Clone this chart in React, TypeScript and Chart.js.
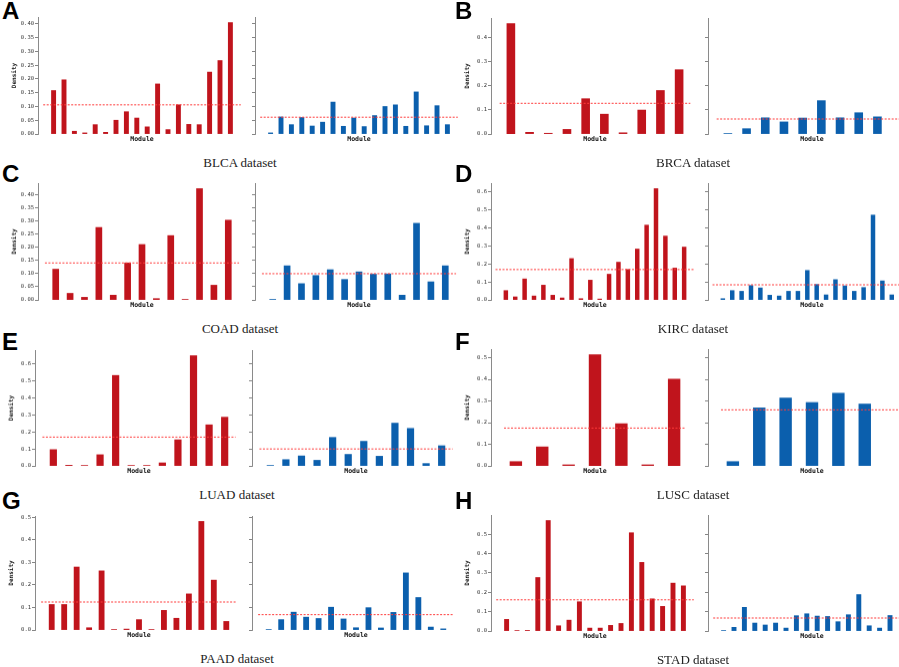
import { useEffect, useRef } from "react";
import { Chart, registerables } from "chart.js";

Chart.register(...registerables);

// ---- data ----
const datasetNames = ["BLCA", "BRCA", "COAD", "KIRC", "LUAD", "LUSC", "PAAD", "STAD"];
const panelLetters = ["A", "B", "C", "D", "E", "F", "G", "H"];

const blcaRed = [0.158, 0.197, 0.010, 0.004, 0.034, 0.006, 0.050, 0.081, 0.058, 0.026, 0.182, 0.016, 0.106, 0.035, 0.034, 0.225, 0.267, 0.405];
const blcaBlue = [0.004, 0.062, 0.034, 0.060, 0.029, 0.043, 0.116, 0.028, 0.058, 0.027, 0.067, 0.100, 0.106, 0.028, 0.153, 0.030, 0.103, 0.034];
const brcaRed = [0.457, 0.007, 0.003, 0.019, 0.146, 0.082, 0.005, 0.099, 0.180, 0.266];
const brcaBlue = [0.002, 0.022, 0.067, 0.050, 0.066, 0.138, 0.067, 0.088, 0.071];
const coadRed = [0.117, 0.025, 0.010, 0.276, 0.018, 0.141, 0.211, 0.005, 0.245, 0.002, 0.424, 0.056, 0.304];
const coadBlue = [0.002, 0.130, 0.062, 0.093, 0.115, 0.078, 0.107, 0.098, 0.099, 0.018, 0.292, 0.069, 0.130];
const kircRed = [0.052, 0.017, 0.117, 0.022, 0.082, 0.026, 0.011, 0.230, 0.007, 0.110, 0.005, 0.143, 0.210, 0.169, 0.283, 0.416, 0.619, 0.355, 0.177, 0.294];
const kircBlue = [0.007, 0.052, 0.048, 0.080, 0.067, 0.026, 0.022, 0.048, 0.048, 0.164, 0.086, 0.028, 0.113, 0.078, 0.048, 0.069, 0.472, 0.106, 0.028];
const luadRed = [0.096, 0.004, 0.002, 0.066, 0.533, 0.002, 0.001, 0.018, 0.154, 0.650, 0.242, 0.287];
const luadBlue = [0.001, 0.037, 0.059, 0.033, 0.168, 0.068, 0.145, 0.057, 0.252, 0.221, 0.014, 0.119];
const luscRed = [0.020, 0.088, 0.005, 0.514, 0.195, 0.005, 0.401];
const luscBlue = [0.020, 0.268, 0.314, 0.293, 0.336, 0.286];
const paadRed = [0.113, 0.113, 0.279, 0.010, 0.262, 0.001, 0.004, 0.046, 0.001, 0.087, 0.052, 0.160, 0.481, 0.221, 0.038];
const paadBlue = [0.001, 0.046, 0.079, 0.057, 0.051, 0.101, 0.049, 0.010, 0.099, 0.009, 0.078, 0.253, 0.144, 0.013, 0.005];
const stadRed = [0.060, 0.001, 0.003, 0.276, 0.570, 0.027, 0.056, 0.151, 0.015, 0.015, 0.029, 0.039, 0.507, 0.354, 0.166, 0.127, 0.247, 0.233];
const stadBlue = [0.001, 0.019, 0.122, 0.041, 0.031, 0.041, 0.015, 0.079, 0.089, 0.077, 0.075, 0.048, 0.084, 0.188, 0.027, 0.015, 0.080];

const redSeries = [blcaRed, brcaRed, coadRed, kircRed, luadRed, luscRed, paadRed, stadRed];
const blueSeries = [blcaBlue, brcaBlue, coadBlue, kircBlue, luadBlue, luscBlue, paadBlue, stadBlue];

// dashed threshold lines
const redMeans = [0.106, 0.127, 0.141, 0.169, 0.170, 0.175, 0.124, 0.161];
const blueMeans = [0.061, 0.062, 0.100, 0.084, 0.100, 0.259, 0.068, 0.067];

// y tick step and decimals per panel
const tickSteps = [0.05, 0.1, 0.05, 0.1, 0.1, 0.1, 0.1, 0.1];
const tickDigits = [2, 1, 2, 1, 1, 1, 1, 1];

// ---- layout (pixels) ----
const panelLayout = [
  { axisX: 38, top: 17, zero: 134.3, letterTop: 2 },
  { axisX: 491, top: 18.3, zero: 134.3, letterTop: 2 },
  { axisX: 38, top: 183.3, zero: 300, letterTop: 165 },
  { axisX: 491, top: 183.3, zero: 300, letterTop: 165 },
  { axisX: 35, top: 350, zero: 465.7, letterTop: 333 },
  { axisX: 491, top: 349.3, zero: 465.7, letterTop: 333 },
  { axisX: 35, top: 515.7, zero: 630.3, letterTop: 492 },
  { axisX: 491, top: 515, zero: 631.3, letterTop: 492 },
];

const AXES_W = 208;
const BLUE_OFFSET = 217;
const Y_AXIS_W_RED = 30;
const Y_AXIS_W_BLUE = 4;
const PAD_TOP = 6;
const X_AXIS_H = 12;
const BAR_FRACTION = 0.39;

const RED = "#c0141c";
const BLUE = "#0b5fad";
const DASH = "#ff3b3b";
const MONO = "'DejaVu Sans Mono', monospace";

interface SubProps {
  values: number[];
  mean: number;
  count: number;
  yMax: number;
  step: number;
  digits: number;
  color: string;
  labels: boolean;
  left: number;
  top: number;
  plotH: number;
}

function SubChart({ values, mean, count, yMax, step, digits, color, labels, left, top, plotH }: SubProps) {
  const canvasRef = useRef<HTMLCanvasElement>(null);
  const chartRef = useRef<Chart | null>(null);

  const yAxisW = labels ? Y_AXIS_W_RED : Y_AXIS_W_BLUE;
  const width = yAxisW + AXES_W;
  const height = PAD_TOP + plotH + X_AXIS_H;
  const pad = 0.05 * count + 0.1;
  const xMin = -pad;
  const xMax = count - 1 + pad;
  const barPx = (BAR_FRACTION * AXES_W) / (xMax - xMin);

  useEffect(() => {
    if (!canvasRef.current) return;
    chartRef.current = new Chart(canvasRef.current, {
      type: "bar",
      data: {
        datasets: [
          {
            type: "line",
            data: [
              { x: xMin, y: mean },
              { x: xMax, y: mean },
            ],
            borderColor: DASH,
            borderWidth: 1,
            borderDash: [2, 1.5],
            pointRadius: 0,
            order: 0,
          },
          {
            type: "bar",
            data: values.map((v, i) => ({ x: i, y: v })),
            backgroundColor: color,
            borderWidth: 0,
            barThickness: barPx,
            order: 1,
          },
        ],
      } as any,
      options: {
        responsive: false,
        animation: false,
        layout: { padding: { top: PAD_TOP, left: 0, right: 0, bottom: 0 } },
        plugins: { legend: { display: false }, tooltip: { enabled: false } },
        scales: {
          x: {
            type: "linear",
            min: xMin,
            max: xMax,
            bounds: "data",
            grid: { display: false },
            border: { display: false },
            ticks: { display: false, stepSize: 1 },
            title: {
              display: true,
              text: "Module",
              color: "#111",
              font: { family: MONO, size: 6.5, weight: "bold" },
              padding: { top: 0, bottom: 2.4 },
            },
            afterFit: (s: any) => {
              s.height = X_AXIS_H;
            },
          },
          y: {
            type: "linear",
            min: 0,
            max: yMax,
            bounds: "data",
            grid: { display: true, drawOnChartArea: false, drawTicks: true, tickLength: 3, color: "#666", lineWidth: 0.8 },
            border: { display: true, color: "#8a8a8a", width: 1 },
            ticks: {
              display: labels,
              stepSize: step,
              includeBounds: false,
              padding: 1,
              color: "#333",
              font: { family: MONO, size: 5.5 },
              callback: (v: any) => Number(v).toFixed(digits),
            },
            title: {
              display: labels,
              text: "Density",
              color: "#111",
              font: { family: MONO, size: 6, weight: "bold" },
              padding: { top: 2.4, bottom: 0 },
            },
            afterFit: (s: any) => {
              s.width = yAxisW;
            },
          },
        },
      } as any,
    });

    return () => {
      if (chartRef.current) {
        chartRef.current.destroy();
        chartRef.current = null;
      }
    };
  }, [values, mean, count, yMax, step, digits, color, labels]);

  return (
    <canvas
      ref={canvasRef}
      width={width}
      height={height}
      style={{ position: "absolute", left: left - yAxisW, top: top - PAD_TOP, width, height }}
    />
  );
}

export default function App() {
  return (
    <div
      style={{
        position: "fixed",
        left: 0,
        top: 0,
        width: 899,
        height: 667,
        overflow: "hidden",
        background: "#fff",
      }}
    >
      {datasetNames.map((name, p) => {
        const lay = panelLayout[p];
        const red = redSeries[p];
        const blue = blueSeries[p];
        const yMax = 1.05 * Math.max(...red, ...blue);
        const plotH = lay.zero - lay.top;
        const letterLeft = lay.axisX < 300 ? 2 : 455;
        return (
          <div key={name}>
            <div
              style={{
                position: "absolute",
                left: letterLeft,
                top: lay.letterTop - 3,
                font: "bold 24px 'Liberation Sans', Arial, sans-serif",
                lineHeight: "24px",
                color: "#000",
              }}
            >
              {panelLetters[p]}
            </div>
            <SubChart
              values={red}
              mean={redMeans[p]}
              count={red.length}
              yMax={yMax}
              step={tickSteps[p]}
              digits={tickDigits[p]}
              color={RED}
              labels={true}
              left={lay.axisX}
              top={lay.top}
              plotH={plotH}
            />
            <SubChart
              values={blue}
              mean={blueMeans[p]}
              count={red.length}
              yMax={yMax}
              step={tickSteps[p]}
              digits={tickDigits[p]}
              color={BLUE}
              labels={false}
              left={lay.axisX + BLUE_OFFSET}
              top={lay.top}
              plotH={plotH}
            />
            <div
              style={{
                position: "absolute",
                left: lay.axisX + 202 - 60,
                width: 120,
                top: lay.zero + 29 - 8,
                height: 16,
                lineHeight: "16px",
                textAlign: "center",
                font: "13px 'Liberation Serif', 'Times New Roman', serif",
                color: "#222",
              }}
            >
              {name} dataset
            </div>
          </div>
        );
      })}
    </div>
  );
}
